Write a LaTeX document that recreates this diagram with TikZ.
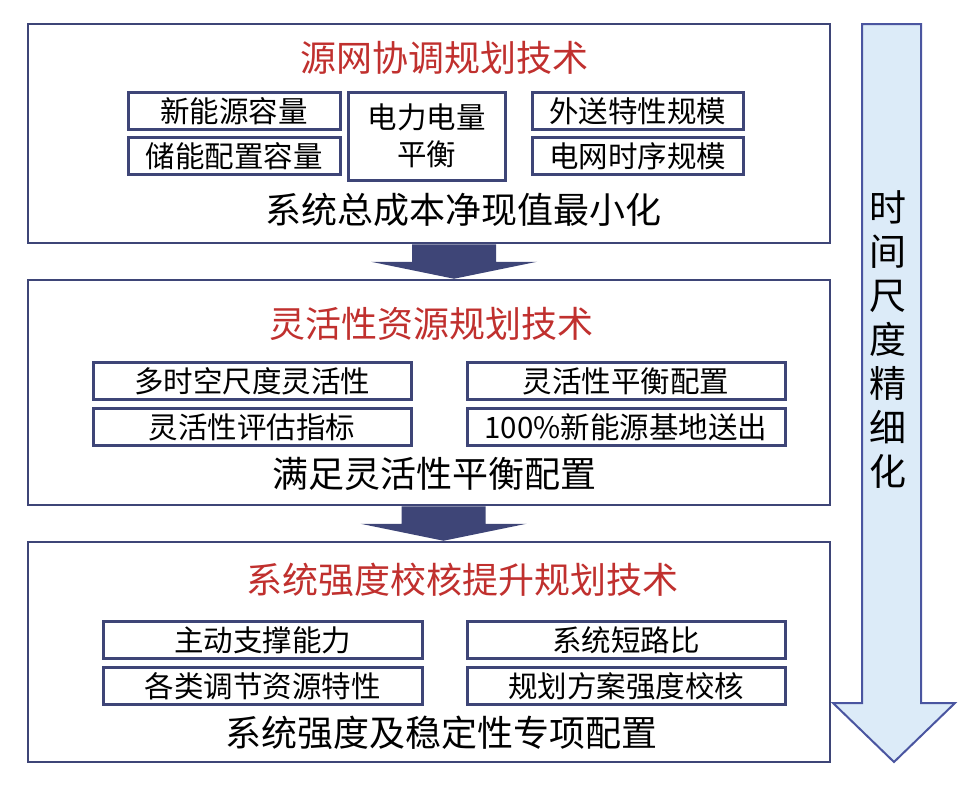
\documentclass[tikz,border=0pt]{standalone}
\usepackage{fontspec}
\setmainfont{Noto Sans CJK SC}
\usepackage{tikz}
\usetikzlibrary{calc}
\definecolor{navy}{HTML}{3E4577}
\definecolor{titlered}{HTML}{C0302E}
\definecolor{paleblue}{HTML}{DCEBF8}
\definecolor{arrowline}{HTML}{4A55A0}
\tikzset{
    bigbox/.style={draw=navy, line width=2.5pt, inner sep=0pt},
    sbox/.style={draw=navy, line width=3pt, inner sep=0pt, font=\fontsize{29.5}{37}\selectfont, align=center},
    title/.style={text=titlered, font=\fontsize{36}{40}\selectfont},
    goal/.style={font=\fontsize{36}{40}\selectfont},
    vtext/.style={font=\fontsize{37}{44}\selectfont, align=center}
}
\newcommand{\fatarrow}[3]{
    \fill[navy] ($(#1.south)+(#3-42,0)$) -- ($(#1.south)+(#3+42,0)$) -- ($(#2.north)+(#3+42,-17)$) -- ($(#2.north)+(#3+83,-17)$) -- ($(#2.north)+(#3,0)$) -- ($(#2.north)+(#3-83,-17)$) -- ($(#2.north)+(#3-42,-17)$) -- cycle
}

\begin{document}
\begin{tikzpicture}[x=1pt,y=-1pt]
            \newcommand{\sbx}[5]{
                \node[sbox, minimum width=#4, minimum height=37] (#1) at (#2,#3) {#5}
            }
            \useasboundingbox (0,0) rectangle (970,787);
            \draw[arrowline, fill=paleblue, line width=2pt] (862,24) -- (921,24) -- (921,703) -- (955,703) -- (894,762) -- (833,703) -- (862,703) -- cycle;
            \node[vtext] (finer) at (888,340) {时\\间\\尺\\度\\精\\细\\化};

            \node[bigbox, minimum width=802, minimum height=219] (plan) at (429,133.5) {};
            \node[bigbox, minimum width=802, minimum height=225] (flex) at (429,392.5) {};
            \node[bigbox, minimum width=802, minimum height=220] (strength) at (429,652) {};

            \node[title] (plantitle) at (444,58) {源网协调规划技术};
            \sbx{newcap}{234}{111}{212}{新能源容量};
            \sbx{storecap}{234}{156}{212}{储能配置容量};
            \node[sbox, minimum width=157, minimum height=88] (balance) at (426.5,136) {电力电量\\平衡};
            \sbx{export}{637.5}{111}{211}{外送特性规模};
            \sbx{timing}{637.5}{156}{211}{电网时序规模};
            \node[goal] (plangoal) at (463,210) {系统总成本净现值最小化};

            \node[title] (flextitle) at (431,324) {灵活性资源规划技术};
            \sbx{multiscale}{252}{381}{318}{多时空尺度灵活性};
            \sbx{flexindex}{252}{427}{318}{灵活性评估指标};
            \sbx{flexbal}{626}{381}{318}{灵活性平衡配置};
            \sbx{basesend}{626}{427}{318}{100\%新能源基地送出};
            \node[goal] (flexgoal) at (434,474) {满足灵活性平衡配置};

            \node[title] (strtitle) at (462,580) {系统强度校核提升规划技术};
            \sbx{support}{262.5}{640}{319}{主动支撑能力};
            \sbx{regulate}{262.5}{686}{319}{各类调节资源特性};
            \sbx{scr}{626}{640}{318}{系统短路比};
            \sbx{strcheck}{626}{686}{318}{规划方案强度校核};
            \node[goal] (strgoal) at (441,733) {系统强度及稳定性专项配置};

            \fatarrow{plan}{flex}{25};
            \fatarrow{flex}{strength}{14.5};
\end{tikzpicture}
\end{document}
